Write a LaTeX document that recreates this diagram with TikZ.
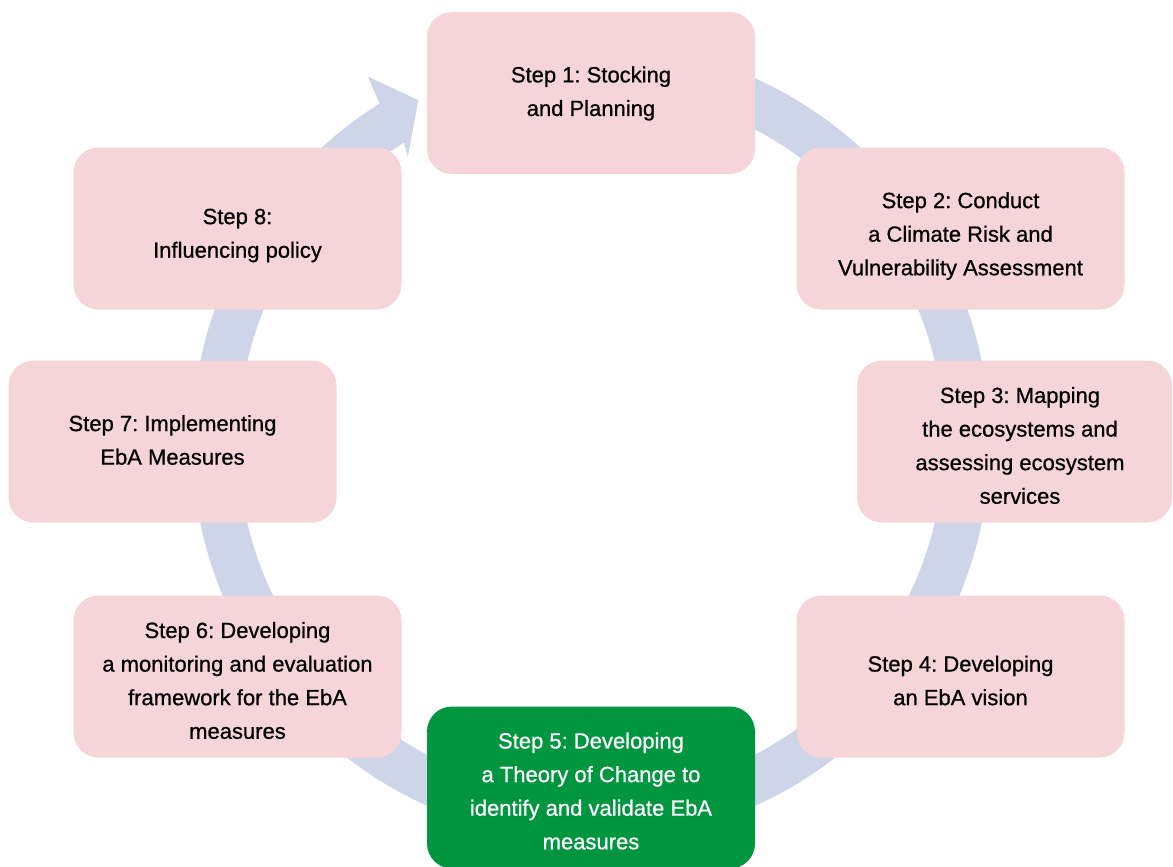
\documentclass[tikz,border=0pt]{standalone}
\usepackage{fontspec}
\setmainfont[FakeBold=0.7]{Liberation Sans}
\definecolor{boxpink}{RGB}{245,213,215}
\definecolor{ringblue}{RGB}{207,213,232}
\definecolor{stepgreen}{RGB}{0,150,64}

\begin{document}
\frenchspacing
\begin{tikzpicture}[x=1pt,y=1pt,
  stepbox/.style={fill=boxpink, rounded corners=25pt, minimum width=328pt,
    minimum height=162pt, inner sep=0pt},
  current/.style={stepbox, fill=stepgreen},
  steptext/.style={inner sep=0pt, align=center,
    font=\fontsize{22}{33.6}\selectfont, text=black},
  currenttext/.style={steptext, text=white}]
\useasboundingbox (0,0) rectangle (1173,-867);

% circular cycle arrow behind the steps
\coordinate (hub) at (591,-442);
\begin{scope}[shift={(hub)}]
  \fill[ringblue] (100:399) arc[start angle=100, end angle=-238, radius=399pt]
    -- (121.4:428) -- (116.8:383) -- (122.7:339) -- (122:353)
    arc[start angle=-238, end angle=100, radius=353pt] -- cycle;
\end{scope}

% the eight step boxes
\node[stepbox] (s1) at (591,-93) {};
\node[stepbox] (s2) at (960.5,-228.5) {};
\node[stepbox, minimum width=315pt] (s3) at (1014.5,-441.5) {};
\node[stepbox] (s4) at (960.5,-676.5) {};
\node[current] (s5) at (591,-787.5) {};
\node[stepbox] (s6) at (237.5,-676.5) {};
\node[stepbox] (s7) at (172.5,-441.5) {};
\node[stepbox] (s8) at (237.5,-228.5) {};

% their captions
\node[steptext] (t1) at ([yshift=-0.5pt]s1.center) {Step 1: Stocking\\and Planning};
\node[steptext] (t2) at ([yshift=-7.5pt]s2.center) {Step 2: Conduct\\a Climate Risk and\\Vulnerability Assessment};
\node[steptext] (t3) at ([xshift=5.5pt,yshift=-4pt]s3.center) {Step 3: Mapping\\the ecosystems and\\assessing ecosystem\\services};
\node[steptext] (t4) at ([yshift=-4pt]s4.center) {Step 4: Developing\\an EbA vision};
\node[currenttext] (t5) at ([yshift=-3.5pt]s5.center) {Step 5: Developing\\a Theory of Change to\\identify and validate EbA\\measures};
\node[steptext] (t6) at ([yshift=-4pt]s6.center) {Step 6: Developing\\a monitoring and evaluation\\framework for the EbA\\measures};
\node[steptext] (t7) at ([yshift=1.5pt]s7.center) {Step 7: Implementing\\EbA Measures};
\node[steptext] (t8) at ([yshift=-7pt]s8.center) {Step 8:\\Influencing policy};
\end{tikzpicture}
\end{document}
